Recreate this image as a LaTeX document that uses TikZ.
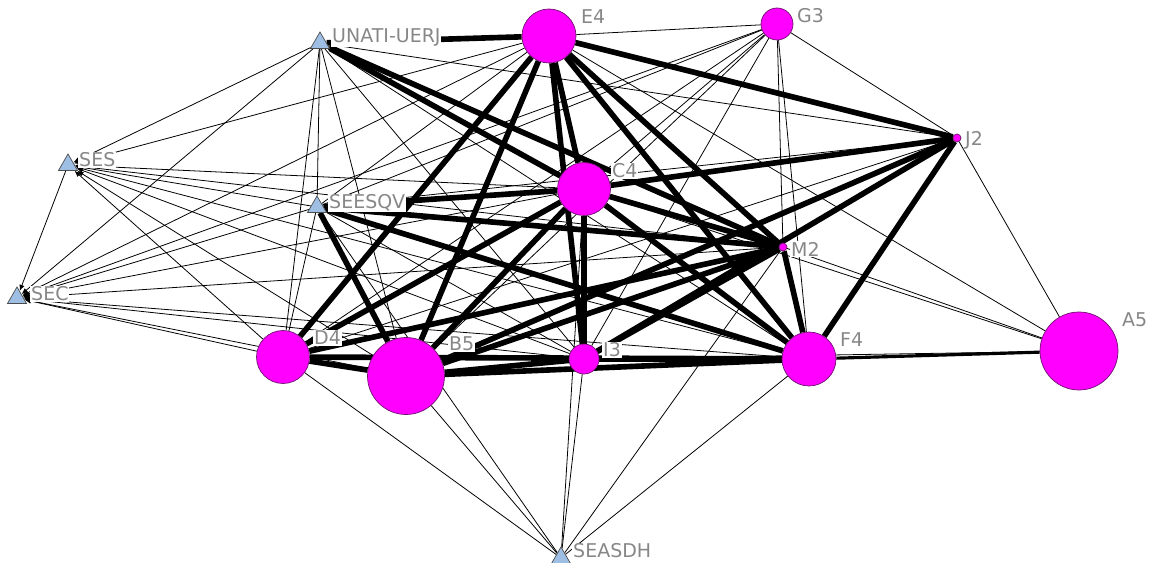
\documentclass[tikz,border=0pt]{standalone}
\usepackage{fontspec}
\setmainfont{DejaVu Sans}
\usetikzlibrary{shapes.geometric}
\usetikzlibrary{arrows.meta}
\usetikzlibrary{backgrounds}
\definecolor{nodepink}{RGB}{255,0,255}
\definecolor{nodeline}{RGB}{110,20,110}
\definecolor{actorblue}{RGB}{158,190,228}
\definecolor{taggray}{RGB}{135,135,135}
\tikzset{
    mynode/.style = {circle, draw=nodeline, fill=nodepink, inner sep=0pt, line width=0.4pt},
    actor/.style = {regular polygon, regular polygon sides=3, draw=black!70, fill=actorblue, minimum size=0.44cm, inner sep=0pt, line width=0.4pt},
    tag/.style = {anchor=west, fill=white, text=taggray, inner sep=0.5pt, font=\fontsize{10.8}{13}\selectfont},
    edgew/.style = {line width=0.45pt}, % weak tie
    edgea/.style = {line width=0.45pt,-{Latex[length=3.5pt,width=3pt]}}, % weak tie, directed
    edgem/.style = {line width=1.8pt},
    edgek/.style = {line width=3.2pt} % strong tie
}
\begin{document}
\begin{tikzpicture}[x=0.02cm,y=-0.02cm]
\useasboundingbox (0,0) rectangle (1154,563);
%
\node[actor] at (320,43) (unati) {};
\node[actor] at (68,165) (ses) {};
\node[actor] at (317,207) (seesqv) {};
\node[actor] at (17,298) (sec) {};
\node[actor] at (561,558) (seasdh) {};
\node[mynode, minimum size=1.08cm] at (549,36) (e4) {};
\node[mynode, minimum size=0.64cm] at (777,24) (g3) {};
\node[mynode, minimum size=0.16cm] at (957,138) (j2) {};
\node[mynode, minimum size=1.06cm] at (584,189) (c4) {};
\node[mynode, minimum size=0.16cm] at (783,247) (m2) {};
\node[mynode, minimum size=1.06cm] at (283,357) (d4) {};
\node[mynode, minimum size=1.54cm] at (406,376) (b5) {};
\node[mynode, minimum size=0.60cm] at (584,359) (i3) {};
\node[mynode, minimum size=1.08cm] at (809,359) (f4) {};
\node[mynode, minimum size=1.56cm] at (1079,351) (a5) {};
%
\node[tag] at (331,37) (unatil) {UNATI-UERJ};
\node[tag] at (78,160) (sesl) {SES};
\node[tag] at (328,203) (seesqvl) {SEESQV};
\node[tag] at (30,294) (secl) {SEC};
\node[tag] at (572,551) (seasdhl) {SEASDH};
\node[tag] at (580,17) (e4l) {E4};
\node[tag] at (796,16) (g3l) {G3};
\node[tag] at (964,140) (j2l) {J2};
\node[tag] at (611,171) (c4l) {C4};
\node[tag] at (790,249) (m2l) {M2};
\node[tag] at (313,338) (d4l) {D4};
\node[tag] at (448,344) (b5l) {B5};
\node[tag] at (602,350) (i3l) {I3};
\node[tag] at (839,340) (f4l) {F4};
\node[tag] at (1121,320) (a5l) {A5};
%
\begin{pgfonlayer}{background}
% strong ties
\draw[edgek] (unati) edge (e4) edge (c4) edge (m2);
\draw[edgek] (e4) edge (j2) edge (c4) edge (i3) edge (d4) edge (b5) edge (f4) edge (m2);
\draw[edgek] (c4) edge (j2) edge (m2) edge (f4) edge (b5) edge (d4) edge (seesqv) edge (i3);
\draw[edgek] (seesqv) edge (m2) edge (f4) edge (b5);
\draw[edgek] (j2) edge (b5) edge (i3) edge (f4);
\draw[edgek] (m2) edge (d4) edge (b5) edge (i3) edge (f4);
\draw[edgek] (d4) edge (b5) edge (f4);
\draw[edgek] (b5) edge (i3) edge (f4);
\draw[edgek] (i3) edge (f4);
\draw[edgem] (f4) edge (a5);
% weak ties
\draw[edgea] (unati) edge (ses) edge (sec);
\draw[edgea] (ses) edge (sec);
\draw[edgea] (e4) edge (ses) edge (sec);
\draw[edgea] (seesqv) edge (ses) edge (sec);
\draw[edgea] (c4) edge (ses) edge (sec);
\draw[edgea] (m2) edge (ses) edge (sec);
\draw[edgea] (d4) edge (ses) edge (sec);
\draw[edgea] (b5) edge (ses) edge (sec);
\draw[edgea] (i3) edge (ses) edge (sec);
\draw[edgea] (f4) edge (ses) edge (sec);
\draw[edgea] (g3) edge (sec);
\draw[edgew] (unati) edge (seesqv) edge (d4) edge (b5) edge (i3) edge (f4) edge (j2);
\draw[edgew] (seesqv) edge (e4) edge (g3) edge (d4) edge (i3) edge (j2);
\draw[edgew] (g3) edge (e4) edge (j2) edge (m2) edge (f4) edge (d4) edge (b5) edge (c4) edge (i3);
\draw[edgew] (a5) edge (e4) edge (j2) edge (m2) edge (c4) edge (i3);
\draw[edgew] (j2) edge (d4);
\draw[edgew] (seasdh) edge (d4) edge (b5) edge (seesqv) edge (i3) edge (c4) edge (m2) edge (f4);
\end{pgfonlayer}

\end{tikzpicture}
\end{document}
